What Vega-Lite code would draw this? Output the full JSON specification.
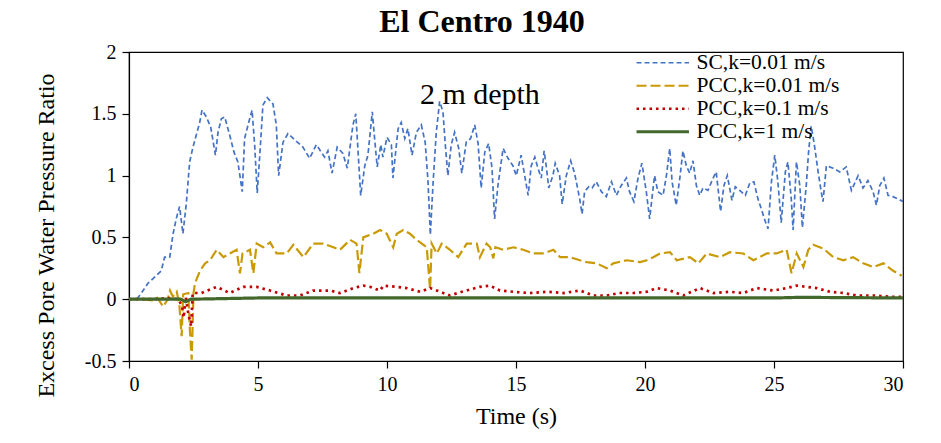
{
  "$schema": "https://vega.github.io/schema/vega-lite/v6.json",
  "width": 774,
  "height": 309,
  "autosize": "none",
  "padding": {"left": 129, "top": 52, "right": 38, "bottom": 82},
  "background": "white",
  "config": {
    "font": "Liberation Serif",
    "view": {"stroke": "black", "strokeWidth": 1.2},
    "axis": {
      "grid": false,
      "domainColor": "black",
      "domainWidth": 1.2,
      "tickColor": "black",
      "tickWidth": 1.2,
      "tickSize": 7,
      "labelColor": "black",
      "labelFont": "Liberation Serif",
      "labelFontSize": 20,
      "labelExpr": "'' + datum.value",
      "titleColor": "black",
      "titleFont": "Liberation Serif",
      "titleFontSize": 24,
      "titleFontWeight": "normal"
    },
    "legend": {
      "labelFont": "Liberation Serif",
      "labelFontSize": 21.5,
      "labelColor": "black"
    }
  },
  "title": {
    "text": "El Centro 1940",
    "font": "Liberation Serif",
    "fontSize": 32,
    "fontWeight": "bold",
    "color": "black",
    "anchor": "middle",
    "dx": -34,
    "offset": 3
  },
  "datasets": {
    "pwp": [
      {"s": "SC,k=0.01 m/s", "t": 0, "v": 0},
      {"s": "SC,k=0.01 m/s", "t": 0.3, "v": 0},
      {"s": "SC,k=0.01 m/s", "t": 0.48, "v": 0.05},
      {"s": "SC,k=0.01 m/s", "t": 0.74, "v": 0.13},
      {"s": "SC,k=0.01 m/s", "t": 1.0, "v": 0.18},
      {"s": "SC,k=0.01 m/s", "t": 1.25, "v": 0.23},
      {"s": "SC,k=0.01 m/s", "t": 1.38, "v": 0.34},
      {"s": "SC,k=0.01 m/s", "t": 1.58, "v": 0.34},
      {"s": "SC,k=0.01 m/s", "t": 1.7, "v": 0.52},
      {"s": "SC,k=0.01 m/s", "t": 1.83, "v": 0.65},
      {"s": "SC,k=0.01 m/s", "t": 1.96, "v": 0.75},
      {"s": "SC,k=0.01 m/s", "t": 2.09, "v": 0.53},
      {"s": "SC,k=0.01 m/s", "t": 2.22, "v": 0.77},
      {"s": "SC,k=0.01 m/s", "t": 2.35, "v": 1.11},
      {"s": "SC,k=0.01 m/s", "t": 2.48, "v": 1.23},
      {"s": "SC,k=0.01 m/s", "t": 2.61, "v": 1.33},
      {"s": "SC,k=0.01 m/s", "t": 2.74, "v": 1.43},
      {"s": "SC,k=0.01 m/s", "t": 2.83, "v": 1.53},
      {"s": "SC,k=0.01 m/s", "t": 3.0, "v": 1.475},
      {"s": "SC,k=0.01 m/s", "t": 3.17, "v": 1.39},
      {"s": "SC,k=0.01 m/s", "t": 3.35, "v": 1.165},
      {"s": "SC,k=0.01 m/s", "t": 3.45, "v": 1.35},
      {"s": "SC,k=0.01 m/s", "t": 3.58, "v": 1.46},
      {"s": "SC,k=0.01 m/s", "t": 3.71, "v": 1.475},
      {"s": "SC,k=0.01 m/s", "t": 3.9, "v": 1.33},
      {"s": "SC,k=0.01 m/s", "t": 4.07, "v": 1.19},
      {"s": "SC,k=0.01 m/s", "t": 4.22, "v": 1.11},
      {"s": "SC,k=0.01 m/s", "t": 4.39, "v": 0.87},
      {"s": "SC,k=0.01 m/s", "t": 4.48, "v": 1.3},
      {"s": "SC,k=0.01 m/s", "t": 4.64, "v": 1.43},
      {"s": "SC,k=0.01 m/s", "t": 4.77, "v": 1.53},
      {"s": "SC,k=0.01 m/s", "t": 4.87, "v": 1.25},
      {"s": "SC,k=0.01 m/s", "t": 4.97, "v": 0.86},
      {"s": "SC,k=0.01 m/s", "t": 5.08, "v": 1.2},
      {"s": "SC,k=0.01 m/s", "t": 5.19, "v": 1.57},
      {"s": "SC,k=0.01 m/s", "t": 5.36, "v": 1.63},
      {"s": "SC,k=0.01 m/s", "t": 5.58, "v": 1.58},
      {"s": "SC,k=0.01 m/s", "t": 5.71, "v": 1.41},
      {"s": "SC,k=0.01 m/s", "t": 5.8, "v": 1.0},
      {"s": "SC,k=0.01 m/s", "t": 5.97, "v": 1.27},
      {"s": "SC,k=0.01 m/s", "t": 6.16, "v": 1.34},
      {"s": "SC,k=0.01 m/s", "t": 6.42, "v": 1.29},
      {"s": "SC,k=0.01 m/s", "t": 6.74, "v": 1.23},
      {"s": "SC,k=0.01 m/s", "t": 7.0, "v": 1.14},
      {"s": "SC,k=0.01 m/s", "t": 7.26, "v": 1.25},
      {"s": "SC,k=0.01 m/s", "t": 7.58, "v": 1.15},
      {"s": "SC,k=0.01 m/s", "t": 7.71, "v": 1.2},
      {"s": "SC,k=0.01 m/s", "t": 7.87, "v": 1.02},
      {"s": "SC,k=0.01 m/s", "t": 8.07, "v": 1.23},
      {"s": "SC,k=0.01 m/s", "t": 8.29, "v": 1.18},
      {"s": "SC,k=0.01 m/s", "t": 8.46, "v": 1.06},
      {"s": "SC,k=0.01 m/s", "t": 8.68, "v": 1.41},
      {"s": "SC,k=0.01 m/s", "t": 8.79, "v": 1.5},
      {"s": "SC,k=0.01 m/s", "t": 8.88, "v": 1.19},
      {"s": "SC,k=0.01 m/s", "t": 8.98, "v": 0.84},
      {"s": "SC,k=0.01 m/s", "t": 9.14, "v": 1.08},
      {"s": "SC,k=0.01 m/s", "t": 9.26, "v": 1.165},
      {"s": "SC,k=0.01 m/s", "t": 9.43, "v": 1.515},
      {"s": "SC,k=0.01 m/s", "t": 9.52, "v": 1.3},
      {"s": "SC,k=0.01 m/s", "t": 9.62, "v": 1.07},
      {"s": "SC,k=0.01 m/s", "t": 9.76, "v": 1.25},
      {"s": "SC,k=0.01 m/s", "t": 9.84, "v": 1.15},
      {"s": "SC,k=0.01 m/s", "t": 10.0, "v": 1.31},
      {"s": "SC,k=0.01 m/s", "t": 10.17, "v": 1.25},
      {"s": "SC,k=0.01 m/s", "t": 10.23, "v": 0.98},
      {"s": "SC,k=0.01 m/s", "t": 10.43, "v": 1.38},
      {"s": "SC,k=0.01 m/s", "t": 10.55, "v": 1.43},
      {"s": "SC,k=0.01 m/s", "t": 10.69, "v": 1.3},
      {"s": "SC,k=0.01 m/s", "t": 10.81, "v": 1.38},
      {"s": "SC,k=0.01 m/s", "t": 10.97, "v": 1.165},
      {"s": "SC,k=0.01 m/s", "t": 11.14, "v": 1.35},
      {"s": "SC,k=0.01 m/s", "t": 11.33, "v": 1.41},
      {"s": "SC,k=0.01 m/s", "t": 11.48, "v": 1.27},
      {"s": "SC,k=0.01 m/s", "t": 11.59, "v": 0.95},
      {"s": "SC,k=0.01 m/s", "t": 11.68, "v": 0.52},
      {"s": "SC,k=0.01 m/s", "t": 11.78, "v": 0.92},
      {"s": "SC,k=0.01 m/s", "t": 11.91, "v": 1.35},
      {"s": "SC,k=0.01 m/s", "t": 12.04, "v": 1.6},
      {"s": "SC,k=0.01 m/s", "t": 12.17, "v": 1.515},
      {"s": "SC,k=0.01 m/s", "t": 12.26, "v": 1.25},
      {"s": "SC,k=0.01 m/s", "t": 12.36, "v": 1.0},
      {"s": "SC,k=0.01 m/s", "t": 12.49, "v": 1.25},
      {"s": "SC,k=0.01 m/s", "t": 12.62, "v": 1.35},
      {"s": "SC,k=0.01 m/s", "t": 12.78, "v": 1.22},
      {"s": "SC,k=0.01 m/s", "t": 12.9, "v": 1.02},
      {"s": "SC,k=0.01 m/s", "t": 13.07, "v": 1.27},
      {"s": "SC,k=0.01 m/s", "t": 13.24, "v": 1.3},
      {"s": "SC,k=0.01 m/s", "t": 13.4, "v": 1.41},
      {"s": "SC,k=0.01 m/s", "t": 13.53, "v": 1.26},
      {"s": "SC,k=0.01 m/s", "t": 13.65, "v": 0.9},
      {"s": "SC,k=0.01 m/s", "t": 13.79, "v": 1.19},
      {"s": "SC,k=0.01 m/s", "t": 13.94, "v": 1.26},
      {"s": "SC,k=0.01 m/s", "t": 14.07, "v": 1.06},
      {"s": "SC,k=0.01 m/s", "t": 14.17, "v": 0.65},
      {"s": "SC,k=0.01 m/s", "t": 14.3, "v": 0.92},
      {"s": "SC,k=0.01 m/s", "t": 14.5, "v": 1.22},
      {"s": "SC,k=0.01 m/s", "t": 14.69, "v": 1.14},
      {"s": "SC,k=0.01 m/s", "t": 14.88, "v": 1.08},
      {"s": "SC,k=0.01 m/s", "t": 15.01, "v": 1.0},
      {"s": "SC,k=0.01 m/s", "t": 15.2, "v": 1.165},
      {"s": "SC,k=0.01 m/s", "t": 15.47, "v": 0.84},
      {"s": "SC,k=0.01 m/s", "t": 15.59, "v": 1.08},
      {"s": "SC,k=0.01 m/s", "t": 15.73, "v": 1.15},
      {"s": "SC,k=0.01 m/s", "t": 15.85, "v": 1.06},
      {"s": "SC,k=0.01 m/s", "t": 15.98, "v": 0.98},
      {"s": "SC,k=0.01 m/s", "t": 16.09, "v": 1.2},
      {"s": "SC,k=0.01 m/s", "t": 16.17, "v": 1.08},
      {"s": "SC,k=0.01 m/s", "t": 16.27, "v": 0.9},
      {"s": "SC,k=0.01 m/s", "t": 16.43, "v": 1.0},
      {"s": "SC,k=0.01 m/s", "t": 16.52, "v": 1.1},
      {"s": "SC,k=0.01 m/s", "t": 16.69, "v": 1.0},
      {"s": "SC,k=0.01 m/s", "t": 16.79, "v": 0.77},
      {"s": "SC,k=0.01 m/s", "t": 16.95, "v": 1.0},
      {"s": "SC,k=0.01 m/s", "t": 17.12, "v": 1.12},
      {"s": "SC,k=0.01 m/s", "t": 17.27, "v": 1.02},
      {"s": "SC,k=0.01 m/s", "t": 17.47, "v": 0.81},
      {"s": "SC,k=0.01 m/s", "t": 17.56, "v": 0.69},
      {"s": "SC,k=0.01 m/s", "t": 17.66, "v": 0.87},
      {"s": "SC,k=0.01 m/s", "t": 17.82, "v": 0.91},
      {"s": "SC,k=0.01 m/s", "t": 17.95, "v": 0.9},
      {"s": "SC,k=0.01 m/s", "t": 18.11, "v": 0.95},
      {"s": "SC,k=0.01 m/s", "t": 18.31, "v": 0.87},
      {"s": "SC,k=0.01 m/s", "t": 18.5, "v": 0.83},
      {"s": "SC,k=0.01 m/s", "t": 18.7, "v": 0.95},
      {"s": "SC,k=0.01 m/s", "t": 18.89, "v": 0.84},
      {"s": "SC,k=0.01 m/s", "t": 19.08, "v": 0.92},
      {"s": "SC,k=0.01 m/s", "t": 19.28, "v": 0.98},
      {"s": "SC,k=0.01 m/s", "t": 19.4, "v": 0.87},
      {"s": "SC,k=0.01 m/s", "t": 19.57, "v": 0.79},
      {"s": "SC,k=0.01 m/s", "t": 19.73, "v": 0.98},
      {"s": "SC,k=0.01 m/s", "t": 19.88, "v": 1.1},
      {"s": "SC,k=0.01 m/s", "t": 20.05, "v": 0.87},
      {"s": "SC,k=0.01 m/s", "t": 20.18, "v": 0.65},
      {"s": "SC,k=0.01 m/s", "t": 20.37, "v": 1.0},
      {"s": "SC,k=0.01 m/s", "t": 20.5, "v": 0.87},
      {"s": "SC,k=0.01 m/s", "t": 20.7, "v": 0.84},
      {"s": "SC,k=0.01 m/s", "t": 20.83, "v": 1.0},
      {"s": "SC,k=0.01 m/s", "t": 20.96, "v": 1.22},
      {"s": "SC,k=0.01 m/s", "t": 21.05, "v": 0.95},
      {"s": "SC,k=0.01 m/s", "t": 21.21, "v": 0.76},
      {"s": "SC,k=0.01 m/s", "t": 21.35, "v": 0.98},
      {"s": "SC,k=0.01 m/s", "t": 21.47, "v": 1.2},
      {"s": "SC,k=0.01 m/s", "t": 21.6, "v": 1.08},
      {"s": "SC,k=0.01 m/s", "t": 21.73, "v": 1.02},
      {"s": "SC,k=0.01 m/s", "t": 21.86, "v": 1.12},
      {"s": "SC,k=0.01 m/s", "t": 21.99, "v": 0.92},
      {"s": "SC,k=0.01 m/s", "t": 22.12, "v": 0.84},
      {"s": "SC,k=0.01 m/s", "t": 22.25, "v": 0.9},
      {"s": "SC,k=0.01 m/s", "t": 22.44, "v": 0.88},
      {"s": "SC,k=0.01 m/s", "t": 22.64, "v": 0.98},
      {"s": "SC,k=0.01 m/s", "t": 22.76, "v": 1.03},
      {"s": "SC,k=0.01 m/s", "t": 22.93, "v": 0.71},
      {"s": "SC,k=0.01 m/s", "t": 23.06, "v": 0.92},
      {"s": "SC,k=0.01 m/s", "t": 23.19, "v": 1.0},
      {"s": "SC,k=0.01 m/s", "t": 23.37, "v": 0.8},
      {"s": "SC,k=0.01 m/s", "t": 23.5, "v": 0.91},
      {"s": "SC,k=0.01 m/s", "t": 23.67, "v": 0.88},
      {"s": "SC,k=0.01 m/s", "t": 23.89, "v": 0.84},
      {"s": "SC,k=0.01 m/s", "t": 24.06, "v": 0.94},
      {"s": "SC,k=0.01 m/s", "t": 24.22, "v": 0.95},
      {"s": "SC,k=0.01 m/s", "t": 24.38, "v": 0.81},
      {"s": "SC,k=0.01 m/s", "t": 24.51, "v": 0.73},
      {"s": "SC,k=0.01 m/s", "t": 24.66, "v": 0.63},
      {"s": "SC,k=0.01 m/s", "t": 24.77, "v": 0.57},
      {"s": "SC,k=0.01 m/s", "t": 24.9, "v": 0.95},
      {"s": "SC,k=0.01 m/s", "t": 25.03, "v": 1.165},
      {"s": "SC,k=0.01 m/s", "t": 25.15, "v": 0.95},
      {"s": "SC,k=0.01 m/s", "t": 25.28, "v": 0.62},
      {"s": "SC,k=0.01 m/s", "t": 25.44, "v": 1.03},
      {"s": "SC,k=0.01 m/s", "t": 25.54, "v": 1.11},
      {"s": "SC,k=0.01 m/s", "t": 25.67, "v": 0.81},
      {"s": "SC,k=0.01 m/s", "t": 25.74, "v": 0.56},
      {"s": "SC,k=0.01 m/s", "t": 25.87, "v": 1.11},
      {"s": "SC,k=0.01 m/s", "t": 26.0, "v": 0.92},
      {"s": "SC,k=0.01 m/s", "t": 26.1, "v": 0.58},
      {"s": "SC,k=0.01 m/s", "t": 26.25, "v": 0.92},
      {"s": "SC,k=0.01 m/s", "t": 26.34, "v": 1.19},
      {"s": "SC,k=0.01 m/s", "t": 26.44, "v": 1.4},
      {"s": "SC,k=0.01 m/s", "t": 26.55, "v": 1.27},
      {"s": "SC,k=0.01 m/s", "t": 26.71, "v": 1.03},
      {"s": "SC,k=0.01 m/s", "t": 26.83, "v": 0.87},
      {"s": "SC,k=0.01 m/s", "t": 26.9, "v": 0.79},
      {"s": "SC,k=0.01 m/s", "t": 27.03, "v": 1.08},
      {"s": "SC,k=0.01 m/s", "t": 27.29, "v": 1.06},
      {"s": "SC,k=0.01 m/s", "t": 27.55, "v": 1.03},
      {"s": "SC,k=0.01 m/s", "t": 27.8, "v": 1.07},
      {"s": "SC,k=0.01 m/s", "t": 28.0, "v": 0.88},
      {"s": "SC,k=0.01 m/s", "t": 28.26, "v": 1.0},
      {"s": "SC,k=0.01 m/s", "t": 28.45, "v": 0.9},
      {"s": "SC,k=0.01 m/s", "t": 28.64, "v": 0.96},
      {"s": "SC,k=0.01 m/s", "t": 28.84, "v": 0.87},
      {"s": "SC,k=0.01 m/s", "t": 28.97, "v": 0.76},
      {"s": "SC,k=0.01 m/s", "t": 29.1, "v": 0.92},
      {"s": "SC,k=0.01 m/s", "t": 29.26, "v": 0.98},
      {"s": "SC,k=0.01 m/s", "t": 29.42, "v": 0.84},
      {"s": "SC,k=0.01 m/s", "t": 29.61, "v": 0.83},
      {"s": "SC,k=0.01 m/s", "t": 29.81, "v": 0.81},
      {"s": "SC,k=0.01 m/s", "t": 30.0, "v": 0.79},

      {"s": "PCC,k=0.01 m/s", "t": 0, "v": 0},
      {"s": "PCC,k=0.01 m/s", "t": 0.43, "v": 0},
      {"s": "PCC,k=0.01 m/s", "t": 0.94, "v": -0.01},
      {"s": "PCC,k=0.01 m/s", "t": 1.1, "v": 0.01},
      {"s": "PCC,k=0.01 m/s", "t": 1.33, "v": -0.06},
      {"s": "PCC,k=0.01 m/s", "t": 1.5, "v": 0},
      {"s": "PCC,k=0.01 m/s", "t": 1.59, "v": 0.07},
      {"s": "PCC,k=0.01 m/s", "t": 1.7, "v": 0.02},
      {"s": "PCC,k=0.01 m/s", "t": 1.85, "v": 0.06},
      {"s": "PCC,k=0.01 m/s", "t": 1.95, "v": -0.04},
      {"s": "PCC,k=0.01 m/s", "t": 2.04, "v": -0.3},
      {"s": "PCC,k=0.01 m/s", "t": 2.1, "v": 0.04},
      {"s": "PCC,k=0.01 m/s", "t": 2.3, "v": 0.05},
      {"s": "PCC,k=0.01 m/s", "t": 2.36, "v": -0.25},
      {"s": "PCC,k=0.01 m/s", "t": 2.43, "v": -0.49},
      {"s": "PCC,k=0.01 m/s", "t": 2.5, "v": 0.05},
      {"s": "PCC,k=0.01 m/s", "t": 2.56, "v": 0.13},
      {"s": "PCC,k=0.01 m/s", "t": 2.75, "v": 0.23},
      {"s": "PCC,k=0.01 m/s", "t": 2.95, "v": 0.29},
      {"s": "PCC,k=0.01 m/s", "t": 3.14, "v": 0.315},
      {"s": "PCC,k=0.01 m/s", "t": 3.4, "v": 0.4},
      {"s": "PCC,k=0.01 m/s", "t": 3.66, "v": 0.34},
      {"s": "PCC,k=0.01 m/s", "t": 3.91, "v": 0.37},
      {"s": "PCC,k=0.01 m/s", "t": 4.17, "v": 0.4},
      {"s": "PCC,k=0.01 m/s", "t": 4.3, "v": 0.21},
      {"s": "PCC,k=0.01 m/s", "t": 4.4, "v": 0.37},
      {"s": "PCC,k=0.01 m/s", "t": 4.69, "v": 0.4},
      {"s": "PCC,k=0.01 m/s", "t": 4.82, "v": 0.21},
      {"s": "PCC,k=0.01 m/s", "t": 4.95, "v": 0.45},
      {"s": "PCC,k=0.01 m/s", "t": 5.2, "v": 0.42},
      {"s": "PCC,k=0.01 m/s", "t": 5.47, "v": 0.46},
      {"s": "PCC,k=0.01 m/s", "t": 5.72, "v": 0.37},
      {"s": "PCC,k=0.01 m/s", "t": 6.11, "v": 0.37},
      {"s": "PCC,k=0.01 m/s", "t": 6.37, "v": 0.44},
      {"s": "PCC,k=0.01 m/s", "t": 6.76, "v": 0.34},
      {"s": "PCC,k=0.01 m/s", "t": 7.14, "v": 0.45},
      {"s": "PCC,k=0.01 m/s", "t": 7.53, "v": 0.45},
      {"s": "PCC,k=0.01 m/s", "t": 7.92, "v": 0.42},
      {"s": "PCC,k=0.01 m/s", "t": 8.18, "v": 0.4},
      {"s": "PCC,k=0.01 m/s", "t": 8.57, "v": 0.48},
      {"s": "PCC,k=0.01 m/s", "t": 8.82, "v": 0.45},
      {"s": "PCC,k=0.01 m/s", "t": 8.93, "v": 0.21},
      {"s": "PCC,k=0.01 m/s", "t": 9.08, "v": 0.5},
      {"s": "PCC,k=0.01 m/s", "t": 9.47, "v": 0.53},
      {"s": "PCC,k=0.01 m/s", "t": 9.73, "v": 0.56},
      {"s": "PCC,k=0.01 m/s", "t": 9.99, "v": 0.53},
      {"s": "PCC,k=0.01 m/s", "t": 10.24, "v": 0.42},
      {"s": "PCC,k=0.01 m/s", "t": 10.38, "v": 0.53},
      {"s": "PCC,k=0.01 m/s", "t": 10.63, "v": 0.56},
      {"s": "PCC,k=0.01 m/s", "t": 10.89, "v": 0.53},
      {"s": "PCC,k=0.01 m/s", "t": 11.15, "v": 0.48},
      {"s": "PCC,k=0.01 m/s", "t": 11.35, "v": 0.45},
      {"s": "PCC,k=0.01 m/s", "t": 11.54, "v": 0.42},
      {"s": "PCC,k=0.01 m/s", "t": 11.67, "v": 0.08},
      {"s": "PCC,k=0.01 m/s", "t": 11.73, "v": 0.45},
      {"s": "PCC,k=0.01 m/s", "t": 11.93, "v": 0.37},
      {"s": "PCC,k=0.01 m/s", "t": 12.12, "v": 0.45},
      {"s": "PCC,k=0.01 m/s", "t": 12.44, "v": 0.4},
      {"s": "PCC,k=0.01 m/s", "t": 12.76, "v": 0.34},
      {"s": "PCC,k=0.01 m/s", "t": 13.09, "v": 0.45},
      {"s": "PCC,k=0.01 m/s", "t": 13.48, "v": 0.45},
      {"s": "PCC,k=0.01 m/s", "t": 13.6, "v": 0.34},
      {"s": "PCC,k=0.01 m/s", "t": 13.86, "v": 0.45},
      {"s": "PCC,k=0.01 m/s", "t": 14.0, "v": 0.42},
      {"s": "PCC,k=0.01 m/s", "t": 14.12, "v": 0.33},
      {"s": "PCC,k=0.01 m/s", "t": 14.2, "v": 0.42},
      {"s": "PCC,k=0.01 m/s", "t": 14.51, "v": 0.4},
      {"s": "PCC,k=0.01 m/s", "t": 14.9, "v": 0.42},
      {"s": "PCC,k=0.01 m/s", "t": 15.28, "v": 0.4},
      {"s": "PCC,k=0.01 m/s", "t": 15.67, "v": 0.37},
      {"s": "PCC,k=0.01 m/s", "t": 16.06, "v": 0.37},
      {"s": "PCC,k=0.01 m/s", "t": 16.45, "v": 0.4},
      {"s": "PCC,k=0.01 m/s", "t": 16.71, "v": 0.34},
      {"s": "PCC,k=0.01 m/s", "t": 17.09, "v": 0.34},
      {"s": "PCC,k=0.01 m/s", "t": 17.48, "v": 0.315},
      {"s": "PCC,k=0.01 m/s", "t": 17.74, "v": 0.3},
      {"s": "PCC,k=0.01 m/s", "t": 18.13, "v": 0.29},
      {"s": "PCC,k=0.01 m/s", "t": 18.52, "v": 0.25},
      {"s": "PCC,k=0.01 m/s", "t": 18.77, "v": 0.29},
      {"s": "PCC,k=0.01 m/s", "t": 19.29, "v": 0.315},
      {"s": "PCC,k=0.01 m/s", "t": 19.81, "v": 0.3},
      {"s": "PCC,k=0.01 m/s", "t": 20.07, "v": 0.315},
      {"s": "PCC,k=0.01 m/s", "t": 20.32, "v": 0.34},
      {"s": "PCC,k=0.01 m/s", "t": 20.58, "v": 0.37},
      {"s": "PCC,k=0.01 m/s", "t": 20.97, "v": 0.38},
      {"s": "PCC,k=0.01 m/s", "t": 21.23, "v": 0.315},
      {"s": "PCC,k=0.01 m/s", "t": 21.74, "v": 0.34},
      {"s": "PCC,k=0.01 m/s", "t": 22.07, "v": 0.29},
      {"s": "PCC,k=0.01 m/s", "t": 22.39, "v": 0.37},
      {"s": "PCC,k=0.01 m/s", "t": 22.91, "v": 0.34},
      {"s": "PCC,k=0.01 m/s", "t": 23.29, "v": 0.38},
      {"s": "PCC,k=0.01 m/s", "t": 23.81, "v": 0.37},
      {"s": "PCC,k=0.01 m/s", "t": 24.2, "v": 0.315},
      {"s": "PCC,k=0.01 m/s", "t": 24.72, "v": 0.37},
      {"s": "PCC,k=0.01 m/s", "t": 25.1, "v": 0.37},
      {"s": "PCC,k=0.01 m/s", "t": 25.49, "v": 0.4},
      {"s": "PCC,k=0.01 m/s", "t": 25.68, "v": 0.21},
      {"s": "PCC,k=0.01 m/s", "t": 25.88, "v": 0.37},
      {"s": "PCC,k=0.01 m/s", "t": 26.14, "v": 0.26},
      {"s": "PCC,k=0.01 m/s", "t": 26.33, "v": 0.4},
      {"s": "PCC,k=0.01 m/s", "t": 26.52, "v": 0.44},
      {"s": "PCC,k=0.01 m/s", "t": 26.91, "v": 0.41},
      {"s": "PCC,k=0.01 m/s", "t": 27.3, "v": 0.34},
      {"s": "PCC,k=0.01 m/s", "t": 27.69, "v": 0.315},
      {"s": "PCC,k=0.01 m/s", "t": 28.07, "v": 0.34},
      {"s": "PCC,k=0.01 m/s", "t": 28.46, "v": 0.29},
      {"s": "PCC,k=0.01 m/s", "t": 28.85, "v": 0.26},
      {"s": "PCC,k=0.01 m/s", "t": 29.24, "v": 0.29},
      {"s": "PCC,k=0.01 m/s", "t": 29.62, "v": 0.23},
      {"s": "PCC,k=0.01 m/s", "t": 29.95, "v": 0.19},

      {"s": "PCC,k=0.1 m/s", "t": 0, "v": 0},
      {"s": "PCC,k=0.1 m/s", "t": 1.0, "v": 0},
      {"s": "PCC,k=0.1 m/s", "t": 1.5, "v": 0.01},
      {"s": "PCC,k=0.1 m/s", "t": 1.9, "v": 0},
      {"s": "PCC,k=0.1 m/s", "t": 2.05, "v": -0.05},
      {"s": "PCC,k=0.1 m/s", "t": 2.12, "v": -0.15},
      {"s": "PCC,k=0.1 m/s", "t": 2.2, "v": 0.02},
      {"s": "PCC,k=0.1 m/s", "t": 2.3, "v": -0.12},
      {"s": "PCC,k=0.1 m/s", "t": 2.41, "v": -0.22},
      {"s": "PCC,k=0.1 m/s", "t": 2.47, "v": 0.05},
      {"s": "PCC,k=0.1 m/s", "t": 2.8, "v": 0.05},
      {"s": "PCC,k=0.1 m/s", "t": 3.4, "v": 0.1},
      {"s": "PCC,k=0.1 m/s", "t": 3.9, "v": 0.05},
      {"s": "PCC,k=0.1 m/s", "t": 4.43, "v": 0.1},
      {"s": "PCC,k=0.1 m/s", "t": 4.95, "v": 0.1},
      {"s": "PCC,k=0.1 m/s", "t": 5.47, "v": 0.07},
      {"s": "PCC,k=0.1 m/s", "t": 6.1, "v": 0.03},
      {"s": "PCC,k=0.1 m/s", "t": 6.63, "v": 0.03},
      {"s": "PCC,k=0.1 m/s", "t": 7.14, "v": 0.07},
      {"s": "PCC,k=0.1 m/s", "t": 7.8, "v": 0.07},
      {"s": "PCC,k=0.1 m/s", "t": 8.18, "v": 0.05},
      {"s": "PCC,k=0.1 m/s", "t": 8.7, "v": 0.09},
      {"s": "PCC,k=0.1 m/s", "t": 9.08, "v": 0.11},
      {"s": "PCC,k=0.1 m/s", "t": 9.34, "v": 0.1},
      {"s": "PCC,k=0.1 m/s", "t": 9.73, "v": 0.07},
      {"s": "PCC,k=0.1 m/s", "t": 9.86, "v": 0.11},
      {"s": "PCC,k=0.1 m/s", "t": 10.38, "v": 0.1},
      {"s": "PCC,k=0.1 m/s", "t": 10.76, "v": 0.09},
      {"s": "PCC,k=0.1 m/s", "t": 11.28, "v": 0.06},
      {"s": "PCC,k=0.1 m/s", "t": 11.67, "v": 0.09},
      {"s": "PCC,k=0.1 m/s", "t": 12.06, "v": 0.06},
      {"s": "PCC,k=0.1 m/s", "t": 12.44, "v": 0.03},
      {"s": "PCC,k=0.1 m/s", "t": 12.9, "v": 0.06},
      {"s": "PCC,k=0.1 m/s", "t": 13.6, "v": 0.1},
      {"s": "PCC,k=0.1 m/s", "t": 13.99, "v": 0.11},
      {"s": "PCC,k=0.1 m/s", "t": 14.38, "v": 0.07},
      {"s": "PCC,k=0.1 m/s", "t": 14.9, "v": 0.06},
      {"s": "PCC,k=0.1 m/s", "t": 15.54, "v": 0.05},
      {"s": "PCC,k=0.1 m/s", "t": 16.2, "v": 0.06},
      {"s": "PCC,k=0.1 m/s", "t": 16.84, "v": 0.05},
      {"s": "PCC,k=0.1 m/s", "t": 17.48, "v": 0.07},
      {"s": "PCC,k=0.1 m/s", "t": 18.0, "v": 0.03},
      {"s": "PCC,k=0.1 m/s", "t": 18.52, "v": 0.03},
      {"s": "PCC,k=0.1 m/s", "t": 19.0, "v": 0.05},
      {"s": "PCC,k=0.1 m/s", "t": 19.55, "v": 0.05},
      {"s": "PCC,k=0.1 m/s", "t": 20.07, "v": 0.06},
      {"s": "PCC,k=0.1 m/s", "t": 20.45, "v": 0.09},
      {"s": "PCC,k=0.1 m/s", "t": 20.97, "v": 0.07},
      {"s": "PCC,k=0.1 m/s", "t": 21.48, "v": 0.03},
      {"s": "PCC,k=0.1 m/s", "t": 22.13, "v": 0.09},
      {"s": "PCC,k=0.1 m/s", "t": 22.65, "v": 0.05},
      {"s": "PCC,k=0.1 m/s", "t": 23.29, "v": 0.06},
      {"s": "PCC,k=0.1 m/s", "t": 23.81, "v": 0.05},
      {"s": "PCC,k=0.1 m/s", "t": 24.33, "v": 0.09},
      {"s": "PCC,k=0.1 m/s", "t": 24.98, "v": 0.07},
      {"s": "PCC,k=0.1 m/s", "t": 25.49, "v": 0.09},
      {"s": "PCC,k=0.1 m/s", "t": 25.88, "v": 0.11},
      {"s": "PCC,k=0.1 m/s", "t": 26.27, "v": 0.1},
      {"s": "PCC,k=0.1 m/s", "t": 26.65, "v": 0.09},
      {"s": "PCC,k=0.1 m/s", "t": 27.17, "v": 0.06},
      {"s": "PCC,k=0.1 m/s", "t": 27.69, "v": 0.05},
      {"s": "PCC,k=0.1 m/s", "t": 28.2, "v": 0.03},
      {"s": "PCC,k=0.1 m/s", "t": 28.85, "v": 0.03},
      {"s": "PCC,k=0.1 m/s", "t": 29.49, "v": 0.02},
      {"s": "PCC,k=0.1 m/s", "t": 29.95, "v": 0.02},

      {"s": "PCC,k=1 m/s", "t": 0, "v": 0},
      {"s": "PCC,k=1 m/s", "t": 2.0, "v": 0},
      {"s": "PCC,k=1 m/s", "t": 2.2, "v": -0.02},
      {"s": "PCC,k=1 m/s", "t": 2.4, "v": 0},
      {"s": "PCC,k=1 m/s", "t": 5, "v": 0.01},
      {"s": "PCC,k=1 m/s", "t": 10, "v": 0.01},
      {"s": "PCC,k=1 m/s", "t": 15, "v": 0.01},
      {"s": "PCC,k=1 m/s", "t": 20, "v": 0.01},
      {"s": "PCC,k=1 m/s", "t": 25, "v": 0.01},
      {"s": "PCC,k=1 m/s", "t": 26, "v": 0.015},
      {"s": "PCC,k=1 m/s", "t": 30, "v": 0.01}
    ]
  },
  "layer": [
    {
      "data": {"name": "pwp"},
      "mark": {"type": "line", "strokeCap": "butt", "clip": true},
      "encoding": {
        "x": {
          "field": "t",
          "type": "quantitative",
          "scale": {"domain": [0, 30], "nice": false},
          "axis": {"title": "Time (s)", "values": [0, 5, 10, 15, 20, 25, 30], "labelPadding": 6, "titlePadding": 10}
        },
        "y": {
          "field": "v",
          "type": "quantitative",
          "scale": {"domain": [-0.5, 2], "nice": false},
          "axis": {"title": "Excess Pore Water Pressure Ratio", "values": [-0.5, 0, 0.5, 1, 1.5, 2], "labelPadding": 6, "titlePadding": 26, "titleY": 183}
        },
        "color": {
          "field": "s",
          "type": "nominal",
          "sort": null,
          "scale": {
            "domain": ["SC,k=0.01 m/s", "PCC,k=0.01 m/s", "PCC,k=0.1 m/s", "PCC,k=1 m/s"],
            "range": ["#4472C4", "#C99A06", "#C00000", "#43682B"]
          },
          "legend": {
            "title": null,
            "orient": "none",
            "legendX": 523,
            "legendY": 0,
            "padding": 0,
            "rowPadding": 0,
            "symbolType": "M-5,0H5",
            "symbolSize": 110,
            "labelOffset": 23
          }
        },
        "strokeDash": {
          "field": "s",
          "type": "nominal",
          "sort": null,
          "scale": {
            "domain": ["SC,k=0.01 m/s", "PCC,k=0.01 m/s", "PCC,k=0.1 m/s", "PCC,k=1 m/s"],
            "range": [[5, 3], [10, 4], [2.5, 4], [1, 0]]
          }
        },
        "strokeWidth": {
          "field": "s",
          "type": "nominal",
          "sort": null,
          "scale": {
            "domain": ["SC,k=0.01 m/s", "PCC,k=0.01 m/s", "PCC,k=0.1 m/s", "PCC,k=1 m/s"],
            "range": [1.7, 3.2, 3.5, 3]
          }
        }
      }
    },
    {
      "data": {"values": [{"label": "2 m depth"}]},
      "mark": {"type": "text", "font": "Liberation Serif", "fontSize": 30, "color": "black", "align": "center", "baseline": "middle"},
      "encoding": {
        "x": {"datum": 13.6},
        "y": {"datum": 1.65},
        "text": {"field": "label"}
      }
    }
  ]
}
